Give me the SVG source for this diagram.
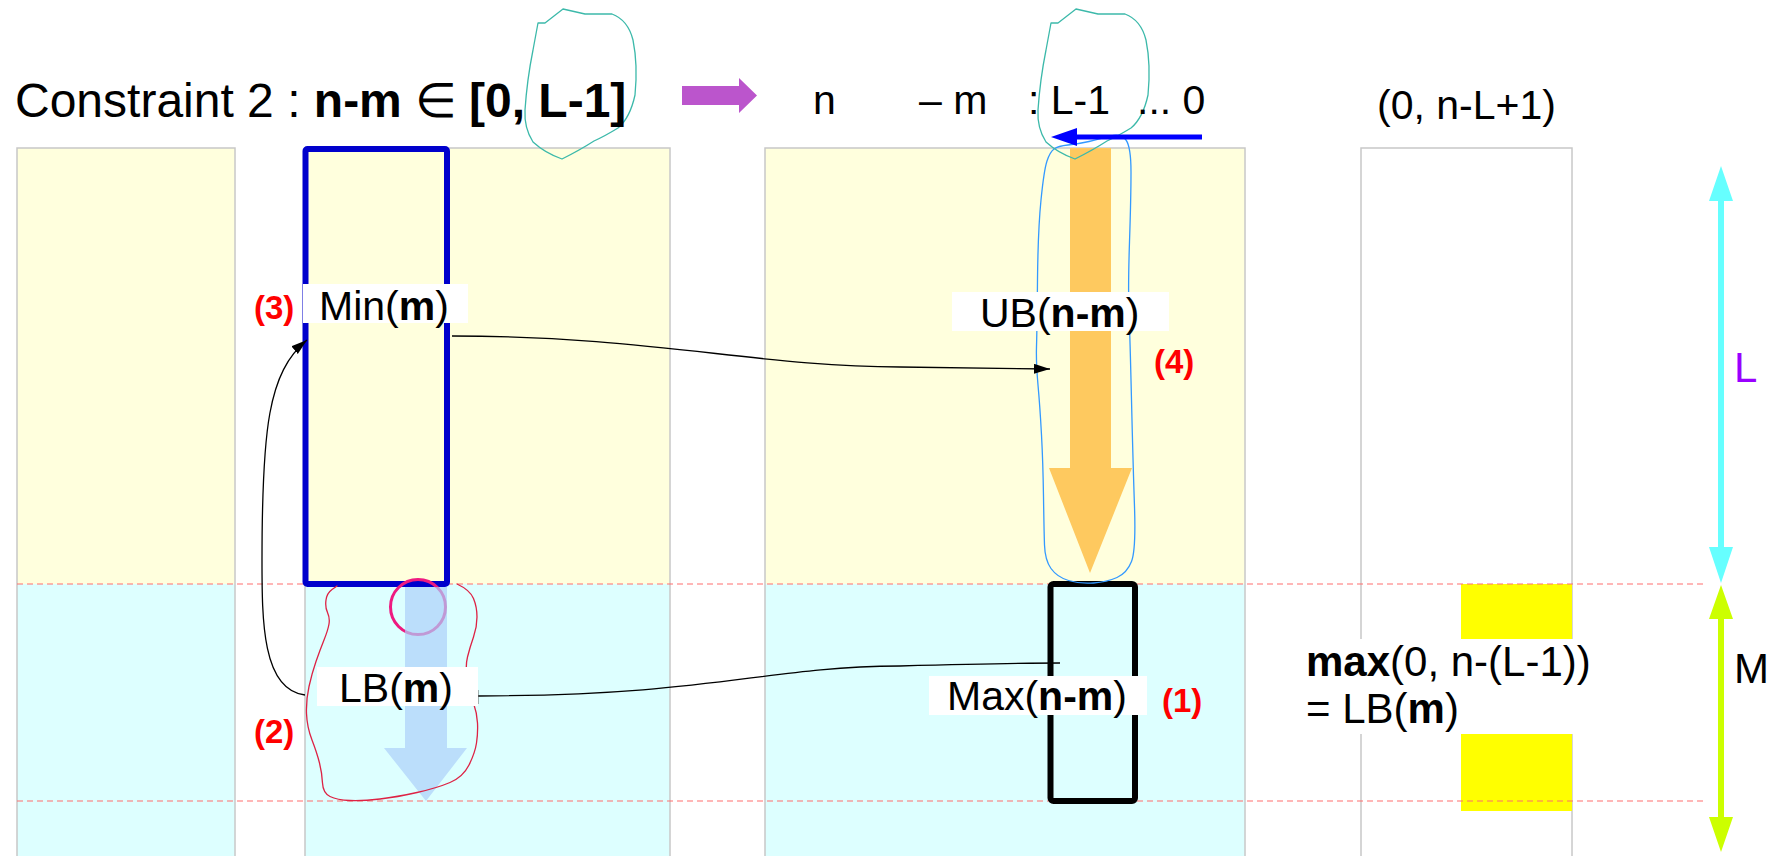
<svg xmlns="http://www.w3.org/2000/svg" width="1778" height="856" viewBox="0 0 1778 856">
<style>
text{font-family:"Liberation Sans",Arial,sans-serif;fill:#000}
.b{font-weight:bold}
.lbl{font-size:41px}
.num{font-size:33px;font-weight:bold;fill:#ff0000}
.colb{fill:none;stroke:#c8c8c8;stroke-width:1.5}
.yel{fill:#ffffdd}
.cya{fill:#ddffff}
.dash{stroke:#ff6e6e;stroke-width:1.2;stroke-dasharray:6 4;fill:none}
.wb{fill:#ffffff}
.conn{fill:none;stroke:#000;stroke-width:1.3}
.free{fill:none;stroke-linejoin:round;stroke-linecap:round}
</style>
<defs>
<marker id="ah" markerUnits="userSpaceOnUse" markerWidth="18" markerHeight="12" refX="16" refY="5" orient="auto">
<path d="M0,0 L16,5 L0,10 z" fill="#000"/>
</marker>
<path id="tealShape" d="M533,50 L538,23 L545,23 L563,9 L585,14 L612,14 Q628,20 633,40 Q638,65 635,95 Q630,118 618,128 Q605,136 594,141 Q580,150 562,159 Q545,153 533,142 Q524,128 525,110 Q527,80 533,50 Z"/>
</defs>
<rect width="1778" height="856" fill="#ffffff"/>

<g id="col1">
<rect class="yel" x="17" y="148" width="218" height="436"/>
<rect class="cya" x="17" y="584" width="218" height="280"/>
<rect class="colb" x="17" y="148" width="218" height="716"/>
</g>
<g id="col2">
<rect class="yel" x="305" y="148" width="365" height="436"/>
<rect class="cya" x="305" y="584" width="365" height="280"/>
<rect class="colb" x="305" y="148" width="365" height="716"/>
</g>
<g id="col3">
<rect class="yel" x="765" y="148" width="480" height="436"/>
<rect class="cya" x="765" y="584" width="480" height="280"/>
<rect class="colb" x="765" y="148" width="480" height="716"/>
</g>
<g id="col4">
<rect fill="#ffffff" class="colb" x="1361" y="148" width="211" height="716"/>
<rect x="1461" y="584" width="111" height="55" fill="#ffff00"/>
<rect x="1461" y="734" width="111" height="77" fill="#ffff00"/>
</g>

<g id="dashed-lines">
<line class="dash" x1="17" y1="584" x2="1705" y2="584"/>
<line class="dash" x1="17" y1="801" x2="1705" y2="801"/>
</g>

<g id="minBox">
<rect x="305.5" y="149" width="141.5" height="435" rx="2" fill="none" stroke="#0000cc" stroke-width="6" stroke-linejoin="round"/>
</g>
<g id="maxBox">
<rect x="1050.5" y="584" width="84.5" height="217" rx="3" fill="none" stroke="#000" stroke-width="6" stroke-linejoin="round"/>
</g>

<g id="lbArrow">
<circle cx="418" cy="607" r="27.5" fill="none" stroke="#ee1a80" stroke-width="3"/>
<polygon points="405,587 447,587 447,748 467,748 426,801 384,748 405,748" fill="#acd0f9" fill-opacity="0.7"/>
</g>

<g id="ubArrow">
<polygon points="1070,148 1111,148 1111,468 1132,468 1090,573 1049,468 1070,468" fill="#fec95f"/>
</g>

<g id="outlines">
<path class="free" stroke="#dd2244" stroke-width="1.3" d="M337,586 L332,589.5 Q327,593 326,600 Q325,607 327.5,612.5 Q330,618 329,624 Q328,630 324,640 Q320,650 316,661.5 Q312,673 309,686.5 Q306,700 306.5,713.5 Q307,727 312,740 Q317,753 319.5,763 Q322,773 322.5,783 Q323,793 330,796.5 Q337,800 350,800.5 Q363,801 380,799 Q397,797 417,792.5 Q437,788 450,782.5 Q463,777 469,765 Q475,753 476.5,743 Q478,733 477.5,723 Q477,713 473.5,703 Q470,693 467.5,680 Q465,667 467.5,657 Q470,647 473.5,637 Q477,627 477,617 Q477,607 473.5,598.5 Q470,590 457,584"/>
<path class="free" stroke="#3399ff" stroke-width="1.3" d="M1047,161 Q1050,152 1054,149 Q1058,146 1068,145 Q1078,144 1089,141.5 Q1100,139 1110.5,136 Q1121,133 1126,140 Q1131,147 1131,172 Q1131,197 1129.5,242 Q1128,287 1129,312 Q1130,337 1131.5,400 Q1133,463 1134.5,506.5 Q1136,550 1131.5,561.5 Q1127,573 1117,577.5 Q1107,582 1093.5,583 Q1080,584 1068.5,580.5 Q1057,577 1051,568.5 Q1045,560 1044.5,545 Q1044,530 1043.5,496.5 Q1043,463 1041.5,435 Q1040,407 1038,385 Q1036,363 1036.5,346.5 Q1037,330 1037.5,280 Q1038,230 1041,200 Q1044,170 1047,161 Z"/>
<use href="#tealShape" class="free" stroke="#3cb9aa" stroke-width="1.3"/>
<use href="#tealShape" class="free" stroke="#3cb9aa" stroke-width="1.3" transform="translate(513,0)"/>
</g>

<g id="connectors">
<path class="conn" d="M305,695 C262,690 262,620 262,560 C262,430 268,372 307,340" marker-end="url(#ah)"/>
<path class="conn" d="M452,336 C650,336 760,367 900,367 L1050,369" marker-end="url(#ah)"/>
<path class="conn" d="M478,696 C720,695 760,667 900,666 C980,664 1020,663 1060,663"/>
<line x1="478" y1="690" x2="478" y2="704" stroke="#666" stroke-width="1"/>
</g>

<g id="label-min">
<rect class="wb" x="303" y="284" width="165" height="39"/>
<text class="lbl" x="319" y="320">Min(<tspan class="b">m</tspan>)</text>
<text class="num" x="254" y="319">(3)</text>
</g>
<g id="label-lb">
<rect class="wb" x="317" y="667" width="161" height="39"/>
<text class="lbl" x="339" y="702">LB(<tspan class="b">m</tspan>)</text>
<text class="num" x="254" y="743">(2)</text>
</g>
<g id="label-ub">
<rect class="wb" x="952" y="292" width="217" height="39"/>
<text class="lbl" x="980" y="327">UB(<tspan class="b">n-m</tspan>)</text>
<text class="num" x="1154" y="373">(4)</text>
</g>
<g id="label-max">
<rect class="wb" x="929" y="676" width="218" height="39"/>
<text class="lbl" x="947" y="710">Max(<tspan class="b">n-m</tspan>)</text>
<text class="num" x="1162" y="712">(1)</text>
</g>
<g id="label-lbm">
<rect class="wb" x="1296" y="639" width="304" height="95"/>
<text font-size="42" x="1306" y="676"><tspan class="b">max</tspan>(0, n-(L-1))</text>
<text font-size="42" x="1306" y="723">= LB(<tspan class="b">m</tspan>)</text>
</g>

<g id="title">
<text font-size="48" x="15" y="117">Constraint 2 : <tspan class="b">n-m</tspan> ∈ <tspan class="b" x="469">[0, L-1]</tspan></text>
<polygon points="682,86 739,86 739,78 757,95.5 739,113 739,105 682,105" fill="#bb55cc"/>
</g>
<g id="range">
<text font-size="41" y="114"><tspan x="813">n</tspan><tspan x="919">– m</tspan><tspan x="1028">: L-1</tspan><tspan x="1137">... 0</tspan></text>
<polygon points="1202,134.5 1077,134.5 1077,128 1051,137 1077,146 1077,139.5 1202,139.5" fill="#0000ff"/>
</g>
<g id="col4-label">
<text font-size="41" x="1377" y="119">(0, n-L+1)</text>
</g>

<g id="dimL">
<polygon points="1721,166 1733,201 1724,201 1724,547 1733,547 1721,583 1709,547 1718,547 1718,201 1709,201" fill="#66ffff"/>
<text font-size="42" x="1734" y="382" style="fill:#9900ff">L</text>
</g>
<g id="dimM">
<polygon points="1721,585 1733,619 1724,619 1724,817 1733,817 1721,852 1709,817 1718,817 1718,619 1709,619" fill="#ccff00"/>
<text font-size="42" x="1734" y="683">M</text>
</g>
</svg>
